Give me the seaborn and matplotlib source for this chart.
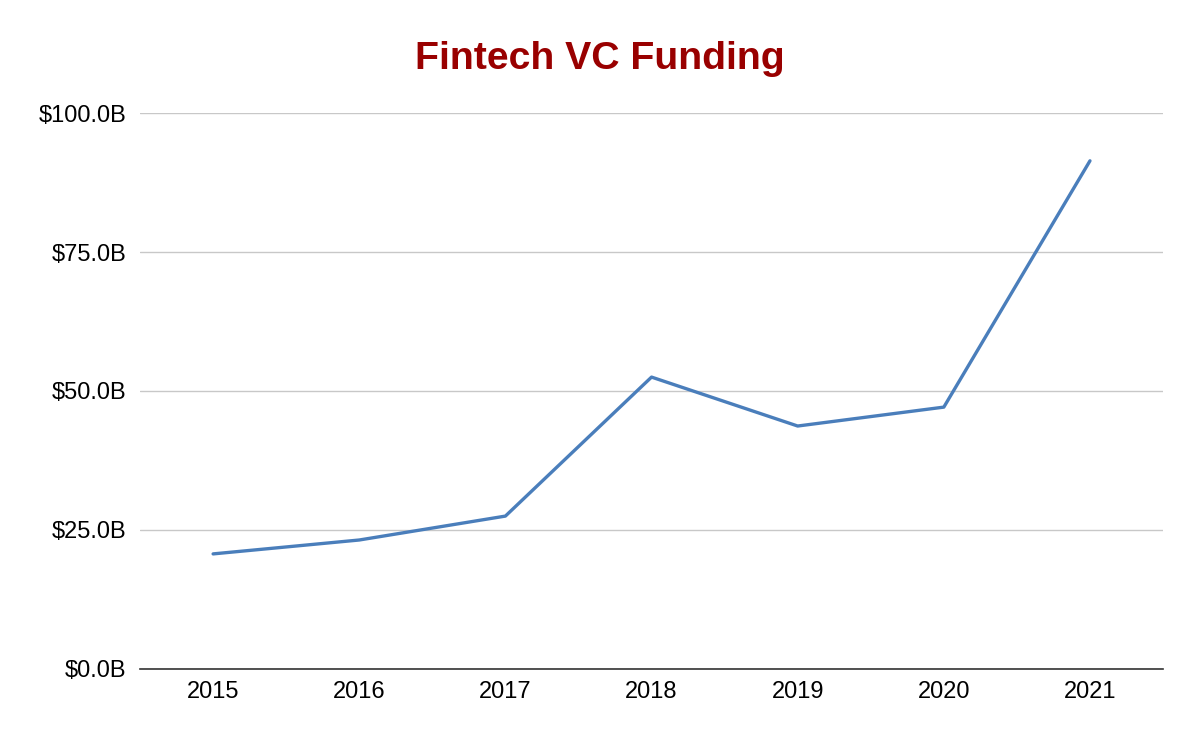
import matplotlib
matplotlib.use("Agg")
import matplotlib.pyplot as plt
import seaborn as sns
import pandas as pd
from matplotlib.ticker import FuncFormatter, MultipleLocator

years = ["2015", "2016", "2017", "2018", "2019", "2020", "2021"]
funding_b = [20.7, 23.2, 27.5, 52.5, 43.7, 47.1, 91.4]

df = pd.DataFrame({"Year": years, "Funding": funding_b})

sns.set_style("white")
plt.rcParams['font.family'] = ['Liberation Sans', 'DejaVu Sans']

fig = plt.figure(figsize=(12, 7.42), dpi=100)
ax = fig.add_axes([0.1167, 0.0984, 0.8525, 0.7493])

sns.lineplot(data=df, x="Year", y="Funding", ax=ax, color="#4a7ebb", linewidth=2.4, sort=False)

ax.set_xlim(-0.5, len(years) - 0.5)
ax.set_ylim(0, 100)
ax.yaxis.set_major_locator(MultipleLocator(25))
ax.yaxis.set_major_formatter(FuncFormatter(lambda v, p: f"${v:.1f}B"))
ax.grid(axis="y", color="#c8c8c8", linewidth=1)
ax.set_axisbelow(True)
for s in ["left", "right", "top"]:
    ax.spines[s].set_visible(False)
ax.spines["bottom"].set_color("#333333")
ax.spines["bottom"].set_linewidth(1.2)
ax.tick_params(axis="both", length=0, labelsize=17, colors="#000000")
ax.tick_params(axis="x", pad=9)
ax.tick_params(axis="y", pad=10)
ax.set_xlabel("")
ax.set_ylabel("")

fig.text(0.5, 0.907, "Fintech VC Funding", ha="center", va="baseline",
         fontsize=28.3, fontweight="bold", color="#990000")

fig.savefig("out.png", dpi=100)
